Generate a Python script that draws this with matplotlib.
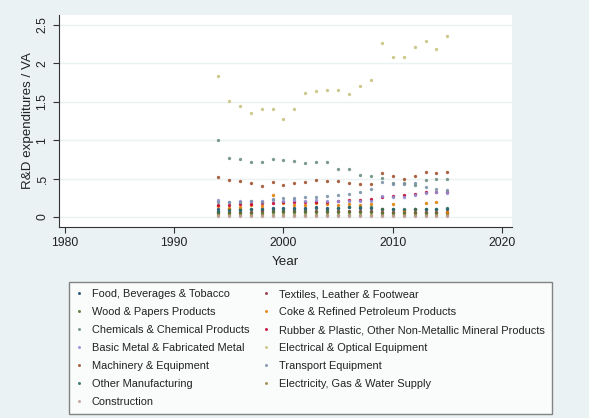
import matplotlib.pyplot as plt

plt.rcParams['font.family'] = ['Liberation Sans', 'DejaVu Sans']

years = list(range(1994, 2016))

# R&D expenditures / value added
food = [0.11, 0.10, 0.10, 0.11, 0.11, 0.12, 0.12, 0.12, 0.12, 0.13, 0.12, 0.12,
        0.13, 0.12, 0.12, 0.10, 0.10, 0.09, 0.10, 0.10, 0.10, 0.11]
textiles = [0.07, 0.07, 0.07, 0.07, 0.08, 0.08, 0.08, 0.08, 0.08, 0.08, 0.08, 0.08,
            0.08, 0.08, 0.08, 0.07, 0.07, 0.07, 0.07, 0.07, 0.07, 0.07]
wood = [0.05, 0.05, 0.05, 0.05, 0.05, 0.06, 0.06, 0.06, 0.06, 0.06, 0.06, 0.06,
        0.06, 0.06, 0.06, 0.05, 0.05, 0.05, 0.05, 0.05, 0.05, 0.05]
coke = [0.14, 0.12, 0.13, 0.15, 0.14, 0.29, 0.18, 0.16, 0.15, 0.18, 0.17, 0.15,
        0.17, 0.16, 0.17, 0.10, 0.17, 0.09, 0.11, 0.18, 0.19, 0.07]
chemicals = [1.00, 0.77, 0.75, 0.72, 0.72, 0.75, 0.74, 0.73, 0.70, 0.72, 0.72, 0.63,
             0.62, 0.55, 0.53, 0.51, 0.44, 0.44, 0.42, 0.48, 0.50, 0.50]
rubber = [0.15, 0.15, 0.17, 0.17, 0.18, 0.18, 0.19, 0.20, 0.19, 0.20, 0.20, 0.21,
          0.22, 0.22, 0.24, 0.26, 0.27, 0.28, 0.30, 0.32, 0.32, 0.33]
basic_metal = [0.22, 0.20, 0.21, 0.21, 0.21, 0.22, 0.21, 0.22, 0.21, 0.22, 0.21, 0.21,
               0.21, 0.21, 0.21, 0.27, 0.26, 0.26, 0.28, 0.31, 0.32, 0.31]
electrical = [1.83, 1.51, 1.45, 1.35, 1.40, 1.40, 1.27, 1.41, 1.61, 1.64, 1.65, 1.66,
              1.60, 1.71, 1.78, 2.26, 2.09, 2.09, 2.22, 2.29, 2.19, 2.36]
machinery = [0.52, 0.48, 0.47, 0.44, 0.41, 0.45, 0.42, 0.44, 0.45, 0.48, 0.47, 0.47,
             0.44, 0.43, 0.43, 0.57, 0.53, 0.50, 0.53, 0.58, 0.57, 0.58]
transport = [0.20, 0.19, 0.20, 0.21, 0.20, 0.23, 0.25, 0.25, 0.26, 0.26, 0.27, 0.28,
             0.30, 0.33, 0.36, 0.46, 0.43, 0.43, 0.44, 0.39, 0.36, 0.35]
other_manuf = [0.08, 0.09, 0.09, 0.10, 0.10, 0.11, 0.11, 0.10, 0.11, 0.12, 0.11, 0.12,
               0.13, 0.13, 0.13, 0.10, 0.11, 0.10, 0.11, 0.11, 0.11, 0.12]
electricity = [0.02, 0.02, 0.02, 0.02, 0.02, 0.02, 0.02, 0.03, 0.03, 0.03, 0.03, 0.03,
               0.03, 0.03, 0.02, 0.02, 0.02, 0.02, 0.02, 0.03, 0.03, 0.03]
construction = [0.01, 0.01, 0.01, 0.01, 0.01, 0.01, 0.01, 0.01, 0.01, 0.01, 0.01, 0.01,
                0.01, 0.01, 0.01, 0.01, 0.01, 0.01, 0.01, 0.01, 0.01, 0.01]

labels = ['Food, Beverages & Tobacco', 'Textiles, Leather & Footwear',
          'Wood & Papers Products', 'Coke & Refined Petroleum Products',
          'Chemicals & Chemical Products',
          'Rubber & Plastic, Other Non-Metallic Mineral Products',
          'Basic Metal & Fabricated Metal', 'Electrical & Optical Equipment',
          'Machinery & Equipment', 'Transport Equipment', 'Other Manufacturing',
          'Electricity, Gas & Water Supply', 'Construction']
series = [food, textiles, wood, coke, chemicals, rubber, basic_metal, electrical,
          machinery, transport, other_manuf, electricity, construction]
# stata s2color palette
colors = ['#1a476f', '#90353b', '#55752f', '#e37e00', '#6e8e84', '#c10534', '#938dd2',
          '#cac27e', '#a0522d', '#7b92a8', '#2d6d66', '#9c8847', '#bfa19c']

bg = '#eaf2f3'
fig = plt.figure(figsize=(5.89, 4.18), dpi=100, facecolor=bg)
ax = fig.add_axes([0.100, 0.457, 0.769, 0.507])
ax.set_facecolor('white')

handles = []
for vals, lab, c in zip(series, labels, colors):
    h, = ax.plot(years, vals, linestyle='none', marker='o', markersize=2.4,
                 markeredgewidth=0, color=c, alpha=0.9, label=lab)
    handles.append(h)

ax.set_xlim(1979.45, 2020.9)
ax.set_ylim(-0.13, 2.63)
ax.set_xticks([1980, 1990, 2000, 2010, 2020])
ax.set_yticks([0, 0.5, 1, 1.5, 2, 2.5])
ax.set_yticklabels(['0', '.5', '1', '1.5', '2', '2.5'], rotation=90, va='center')
ax.tick_params(labelsize=8.7, length=4, width=0.8, color='#333333', labelcolor='#222222')
ax.grid(axis='y', color=bg, linewidth=1)
ax.set_axisbelow(True)
for s in ['top', 'right']:
    ax.spines[s].set_visible(False)
for s in ['left', 'bottom']:
    ax.spines[s].set_color('#333333')
    ax.spines[s].set_linewidth(0.8)
ax.set_xlabel('Year', fontsize=9.6, color='#222222', labelpad=5)
ax.set_ylabel('R&D expenditures / VA', fontsize=9.6, color='#222222', labelpad=2)

# stata fills legend rows first, matplotlib fills columns first
order = [0, 2, 4, 6, 8, 10, 12, 1, 3, 5, 7, 9, 11]
leg = fig.legend([handles[i] for i in order], [labels[i] for i in order],
                 ncol=2, loc='lower left', bbox_to_anchor=(0.108, -0.003, 0.838, 0.33),
                 mode='expand', fontsize=7.9, frameon=True, fancybox=False,
                 handlelength=0.5, handletextpad=0.9, labelspacing=0.72,
                 borderpad=0.65, markerscale=0.9)
for t in leg.get_texts():
    t.set_color('#222222')
leg.get_frame().set_edgecolor('#666666')
leg.get_frame().set_linewidth(1)

fig.savefig('out.png', dpi=100, facecolor=bg)
